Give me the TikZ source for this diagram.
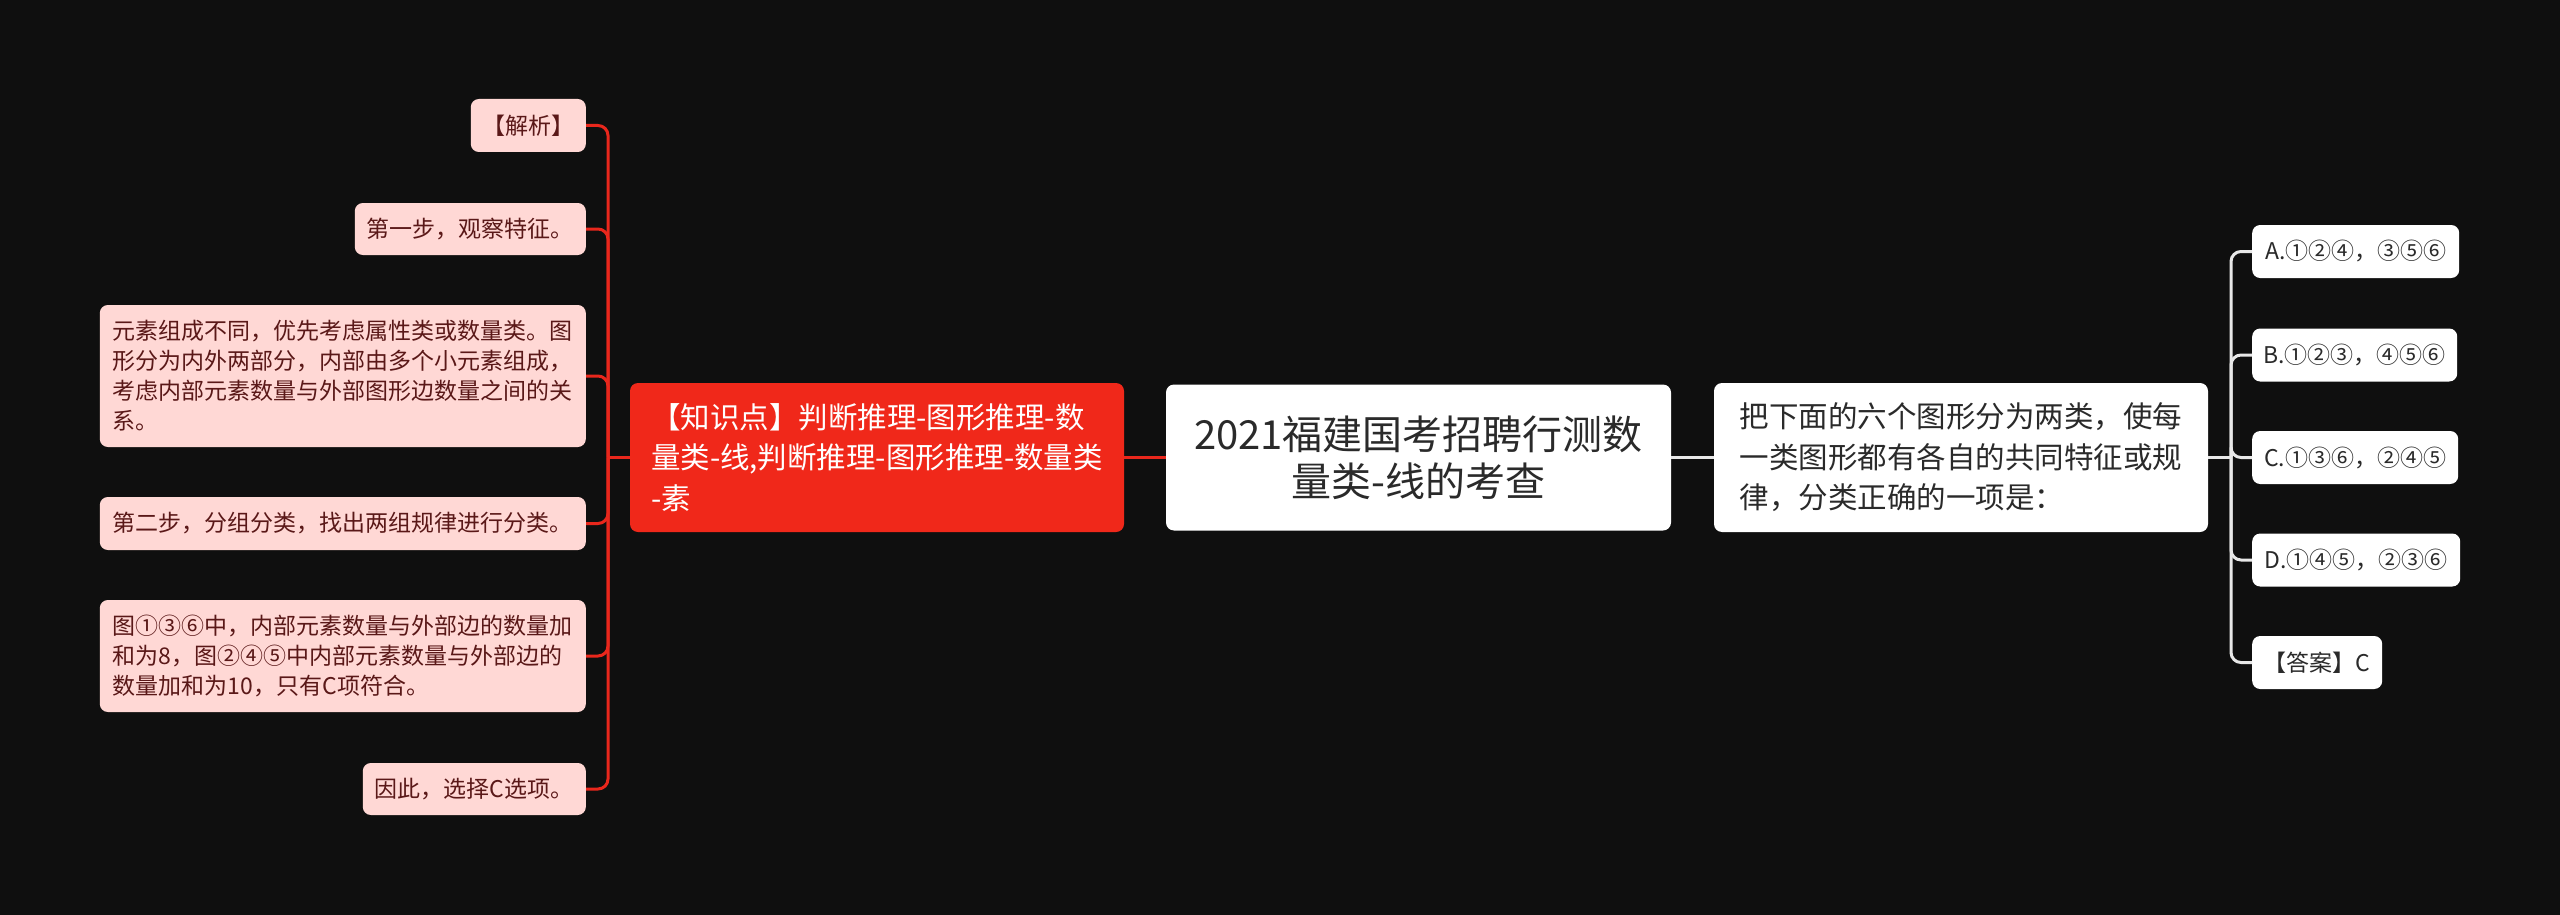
\documentclass[tikz,border=0pt]{standalone}
\usepackage{fontspec}
\setmainfont{Noto Sans CJK SC}

\definecolor{bgcolor}{HTML}{0F0F0F}
\definecolor{leaffill}{HTML}{FFD8D5}
\definecolor{leaftext}{HTML}{5A1818}
\definecolor{topicred}{HTML}{F0281A}
\definecolor{linkred}{HTML}{E9271C}
\definecolor{linkwhite}{HTML}{E8E8E8}
\definecolor{roottext}{HTML}{2A2A2A}

\tikzset{
    box/.style={rounded corners=8pt, inner sep=0pt},
    leaf/.style={box, fill=leaffill, text=leaftext, align=left, anchor=east,
        font=\fontsize{23pt}{30pt}\selectfont},
    topic/.style={box, fill=topicred, text=white, align=left,
        font=\fontsize{29.5pt}{40.5pt}\selectfont},
    root/.style={box, fill=white, text=roottext, align=center,
        font=\fontsize{40pt}{47pt}\selectfont},
    question/.style={box, fill=white, text=roottext, align=left,
        font=\fontsize{29.5pt}{40.5pt}\selectfont},
    option/.style={box, fill=white, text=roottext, anchor=west,
        minimum height=53pt, font=\fontsize{23pt}{30pt}\selectfont},
    lconn/.style={draw=linkred, line width=3pt, rounded corners=10pt},
    rconn/.style={draw=linkwhite, line width=3pt, rounded corners=10pt}
}

\begin{document}
\begin{tikzpicture}[x=1pt, y=-1pt]

    \fill[bgcolor] (0,0) rectangle (2560,915);

    %% Centre

    % Root topic
    \node[root, minimum width=505pt, minimum height=146pt] (root) at (1418.5,457.5)
        {2021福建国考招聘行测数\\量类-线的考查};

    % Knowledge point (left)
    \node[topic, minimum width=494pt, minimum height=149pt] (topic) at (877,457.5)
        {【知识点】判断推理-图形推理-数\\量类-线,判断推理-图形推理-数量类\\-素};

    % Question (right)
    \node[question, minimum width=494pt, minimum height=149pt] (question) at (1961,457.5)
        {把下面的六个图形分为两类，使每\\一类图形都有各自的共同特征或规\\律，分类正确的一项是：};

    \draw[draw=linkred, line width=3pt] (root.west) -- (topic.east);
    \draw[draw=linkwhite, line width=3pt] (root.east) -- (question.west);

    %% Left branch: analysis

    \node[leaf, minimum width=115pt, minimum height=53pt] (jiexi) at (586,125.5) {【解析】};
    \node[leaf, minimum width=231pt, minimum height=52pt] (step1) at (586,229) {第一步，观察特征。};
    \node[leaf, minimum width=486pt, minimum height=142pt] (yuansu) at (586,376)
        {元素组成不同，优先考虑属性类或数量类。图\\形分为内外两部分，内部由多个小元素组成，\\考虑内部元素数量与外部图形边数量之间的关\\系。};
    \node[leaf, minimum width=486pt, minimum height=53pt] (step2) at (586,523.5)
        {第二步，分组分类，找出两组规律进行分类。};
    \node[leaf, minimum width=486pt, minimum height=112pt] (jiahe) at (586,656)
        {图①③⑥中，内部元素数量与外部边的数量加\\和为8，图②④⑤中内部元素数量与外部边的\\数量加和为10，只有C项符合。};
    \node[leaf, minimum width=223pt, minimum height=52pt] (yinci) at (586,789) {因此，选择C选项。};

    \coordinate (lhub) at (608,457.5);
    \draw[lconn] (topic.west) -- (lhub);
    \foreach \n in {jiexi, step1, yuansu, step2, jiahe, yinci}
        \draw[lconn] (lhub) |- (\n.east);

    %% Right branch: options

    \node[option, minimum width=207pt] (optA) at (2252,251.5) {A.①②④，③⑤⑥};
    \node[option, minimum width=205pt] (optB) at (2252,355) {B.①②③，④⑤⑥};
    \node[option, minimum width=206pt] (optC) at (2252,457.5) {C.①③⑥，②④⑤};
    \node[option, minimum width=208pt] (optD) at (2252,560) {D.①④⑤，②③⑥};
    \node[option, minimum width=130pt] (daan) at (2252,662.5) {【答案】C};

    \coordinate (rhub) at (2231,457.5);
    \draw[rconn] (question.east) -- (rhub);
    \foreach \n in {optA, optB, optC, optD, daan}
        \draw[rconn] (rhub) |- (\n.west);

\end{tikzpicture}
\end{document}
